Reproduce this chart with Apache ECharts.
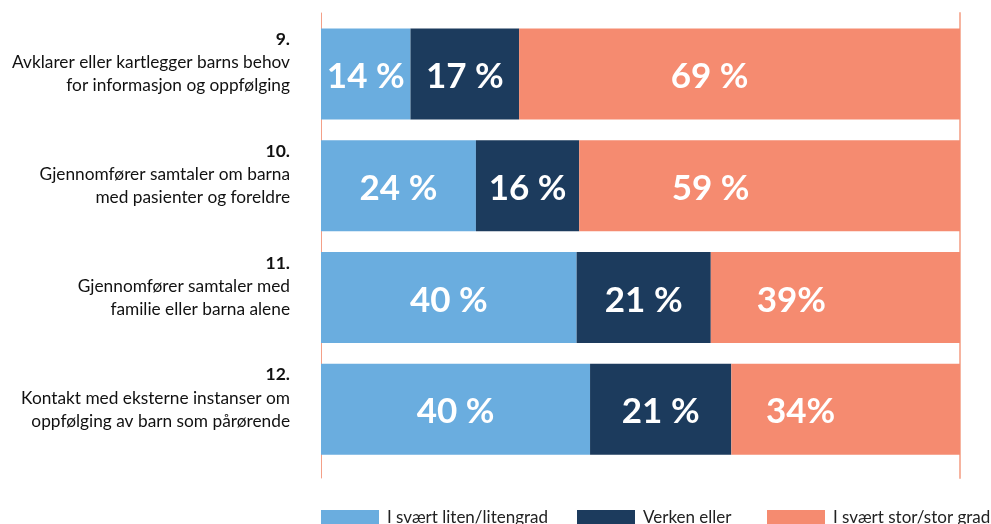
<!DOCTYPE html>
<html>
<head>
<meta charset="utf-8">
<script src="https://cdn.jsdelivr.net/npm/echarts@6/dist/echarts.min.js"></script>
<style>html,body{margin:0;padding:0;background:#fff}#c{width:991px;height:524px}</style>
</head>
<body>
<div id="c"></div>
<script>
// ---- data ----
const itemNumbers = ['9.', '10.', '11.', '12.'];
const itemLine1 = ['Avklarer eller kartlegger barns behov', 'Gjennomfører samtaler om barna', 'Gjennomfører samtaler med', 'Kontakt med eksterne instanser om'];
const itemLine2 = ['for informasjon og oppfølging', 'med pasienter og foreldre', 'familie eller barna alene', 'oppfølging av barn som pårørende'];
const seriesNames = ['I svært liten/litengrad', 'Verken eller', 'I svært stor/stor grad'];
const lowValues = [14, 24, 40, 40];
const midValues = [17, 16, 21, 21];
const highValues = [69, 59, 39, 34];
const lowLabels = ['14 %', '24 %', '40 %', '40 %'];
const midLabels = ['17 %', '16 %', '21 %', '21 %'];
const highLabels = ['69 %', '59 %', '39%', '34%'];

// ---- styling ----
const colors = ['#6AADDF', '#1C3B5D', '#F58B70'];
const highLabelShift = [-30, -59, -44, -45];
const FONT = 'Lato';

const categories = itemNumbers.map((n, i) => n);
const totals = lowValues.map((v, i) => v + midValues[i] + highValues[i]);
const share = arr => arr.map((v, i) => v / totals[i] * 100);

function mkSeries(idx, vals, labels, shifts) {
  return {
    name: seriesNames[idx],
    type: 'bar',
    stack: 'total',
    xAxisIndex: 0, yAxisIndex: 0,
    barWidth: 91,
    itemStyle: { color: colors[idx] },
    data: share(vals).map((v, i) => ({
      value: v,
      label: shifts ? { offset: [shifts[i], 3] } : { offset: [0, 3] }
    })),
    label: {
      show: true,
      position: 'inside',
      formatter: p => labels[p.dataIndex],
      color: '#fff',
      fontFamily: FONT,
      fontWeight: 'bold',
      fontSize: 35
    }
  };
}

const chart = echarts.init(document.getElementById('c'), null, { renderer: 'canvas' });
const legendBase = {
  top: 509, itemWidth: 58, itemHeight: 15, icon: 'rect', padding: 0,
  textStyle: { fontFamily: FONT, fontSize: 17, color: '#222', padding: [0, 0, 0, 3] },
  itemGap: 0, selectedMode: false
};
chart.setOption({
  animation: false,
  backgroundColor: '#fff',
  legend: [
    Object.assign({}, legendBase, { left: 321, data: [seriesNames[0]] }),
    Object.assign({}, legendBase, { left: 577, data: [seriesNames[1]] }),
    Object.assign({}, legendBase, { left: 767, data: [seriesNames[2]] })
  ],
  grid: [
    { left: 321, right: 31, top: 18, height: 447 },
    { left: 321, right: 31, top: 13, height: 465 }
  ],
  xAxis: [
    { gridIndex: 0, type: 'value', min: 0, max: 100, show: false },
    { gridIndex: 1, type: 'value', min: 0, max: 100, show: false }
  ],
  yAxis: [
    {
      gridIndex: 0, type: 'category', inverse: true, data: categories,
      axisLine: { show: false }, axisTick: { show: false },
      axisLabel: {
        margin: 31,
        align: 'right',
        formatter: (v, i) => '{n|' + itemNumbers[i] + '}\n{t|' + itemLine1[i] + '}\n{t|' + itemLine2[i] + '}\n{t| }',
        rich: {
          n: { fontFamily: FONT, fontWeight: 'bold', fontSize: 17.5, color: '#111', align: 'right', lineHeight: 24 },
          t: { fontFamily: FONT, fontSize: 17.3, color: '#111', align: 'right', lineHeight: 23 }
        }
      }
    },
    {
      gridIndex: 1, type: 'value', position: 'left',
      axisLine: { show: true, lineStyle: { color: '#F4A088', width: 1 } },
      axisTick: { show: false }, axisLabel: { show: false }, splitLine: { show: false }
    },
    {
      gridIndex: 1, type: 'value', position: 'right',
      axisLine: { show: true, lineStyle: { color: '#F6B4A0', width: 2 } },
      axisTick: { show: false }, axisLabel: { show: false }, splitLine: { show: false }
    }
  ],
  series: [
    mkSeries(0, lowValues, lowLabels, null),
    mkSeries(1, midValues, midLabels, null),
    mkSeries(2, highValues, highLabels, highLabelShift)
  ]
});
</script>
</body>
</html>
